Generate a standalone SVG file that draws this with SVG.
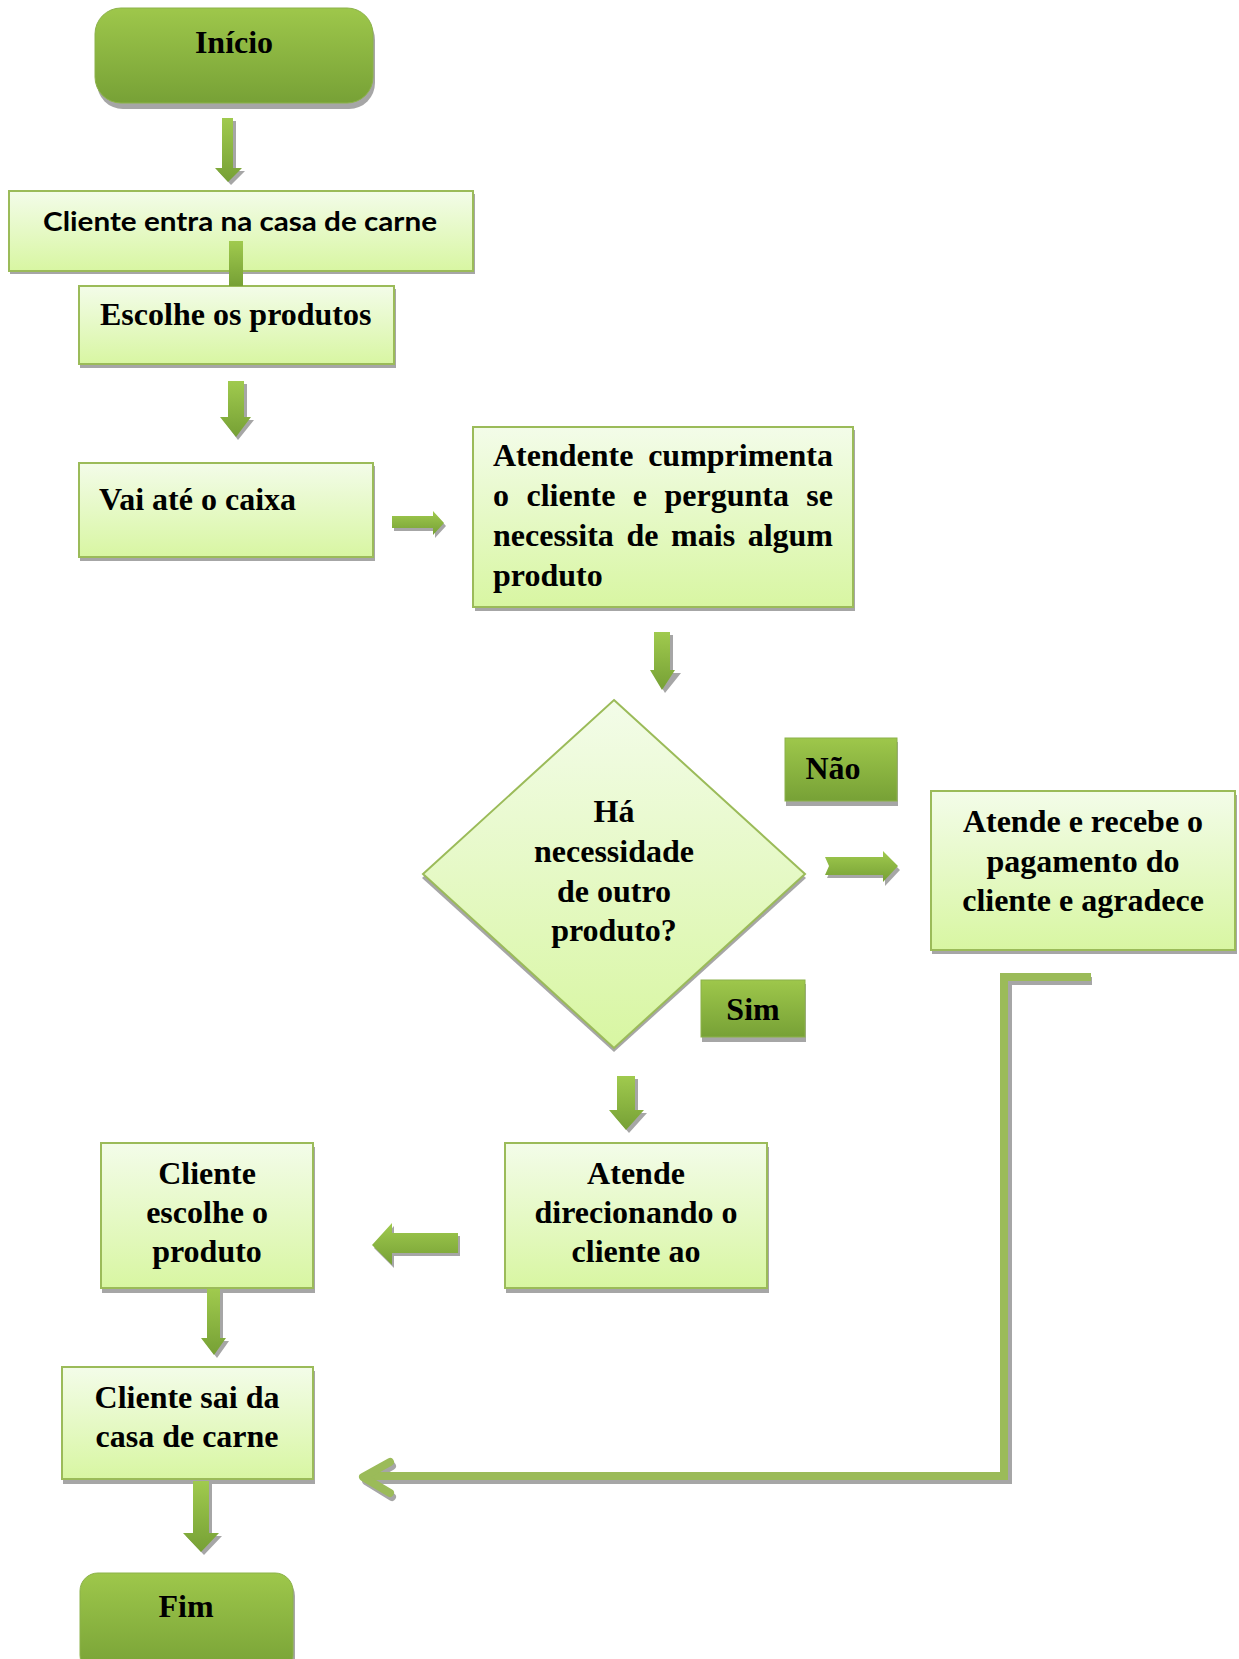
<svg xmlns="http://www.w3.org/2000/svg" width="1239" height="1659" viewBox="0 0 1239 1659">
<defs>
<linearGradient id="gLight" x1="0" y1="0" x2="0" y2="1">
<stop offset="0" stop-color="#f3fce9"/>
<stop offset="1" stop-color="#d8f6a2"/>
</linearGradient>
<linearGradient id="gDark" x1="0" y1="0" x2="0" y2="1">
<stop offset="0" stop-color="#9ec74b"/>
<stop offset="1" stop-color="#77a136"/>
</linearGradient>
<linearGradient id="gArrow" x1="0" y1="0" x2="0" y2="1">
<stop offset="0" stop-color="#a0ca4e"/>
<stop offset="1" stop-color="#76a035"/>
</linearGradient>
</defs>
<style>
.proc{fill:url(#gLight);stroke:#9bbb59;stroke-width:2}
.term{fill:url(#gDark);stroke:#8cb24a;stroke-width:1}
.shadow{fill:#a6a6a6}
.t{font-family:"Liberation Serif","Times New Roman",serif;font-weight:bold;font-size:32px;fill:#000}
.tc{text-anchor:middle}
.ts{font-family:Lato,"Liberation Sans",Arial,sans-serif;font-weight:bold;font-size:27px;fill:#000}
.arrow{fill:url(#gArrow)}
.arrowsh{fill:#a6a6a6}
.line{fill:none;stroke:#9bbb59;stroke-width:8}
.linesh{fill:none;stroke:#a6a6a6;stroke-width:8}
</style>
<rect width="1239" height="1659" fill="#ffffff"/>

<g id="node-inicio">
<rect class="shadow" x="97" y="14" width="278" height="95" rx="26"/>
<rect class="term" x="95" y="8" width="278" height="95" rx="26"/>
<text class="t tc" x="234" y="53">Início</text>
</g>

<g id="node-entra">
<rect class="shadow" x="10" y="194" width="465" height="80"/>
<rect class="proc" x="9" y="191" width="464" height="80"/>
<text class="ts" x="43" y="231" textLength="394" lengthAdjust="spacingAndGlyphs">Cliente entra na casa de carne</text>
</g>

<g id="node-escolhe">
<rect class="shadow" x="80" y="289" width="316" height="79"/>
<rect class="proc" x="79" y="286" width="315" height="78"/>
<text class="t" x="100" y="325">Escolhe os produtos</text>
</g>

<g id="node-caixa">
<rect class="shadow" x="80" y="466" width="295" height="95"/>
<rect class="proc" x="79" y="463" width="294" height="94"/>
<text class="t" x="99" y="510">Vai até o caixa</text>
</g>

<g id="node-atendente">
<rect class="shadow" x="475" y="430" width="380" height="181"/>
<rect class="proc" x="473" y="427" width="380" height="180"/>
<text class="t"><tspan x="493" y="466">Atendente</tspan><tspan x="833" y="466" text-anchor="end">cumprimenta</tspan></text>
<text class="t"><tspan x="493" y="506">o</tspan><tspan x="526.5" y="506">cliente</tspan><tspan x="632.8" y="506">e</tspan><tspan x="664.5" y="506">pergunta</tspan><tspan x="833" y="506" text-anchor="end">se</tspan></text>
<text class="t"><tspan x="493" y="546">necessita</tspan><tspan x="626.5" y="546">de</tspan><tspan x="671.1" y="546">mais</tspan><tspan x="833" y="546" text-anchor="end">algum</tspan></text>
<text class="t" x="493" y="586">produto</text>
</g>

<g id="node-decisao">
<polygon class="shadow" points="614,704 806,878 614,1052 422,878"/>
<polygon class="proc" points="614,700 805,874 614,1048 423,874"/>
<text class="t tc" x="614" y="822">Há</text>
<text class="t tc" x="614" y="862">necessidade</text>
<text class="t tc" x="614" y="902">de outro</text>
<text class="t tc" x="614" y="941">produto?</text>
</g>

<g id="node-nao">
<rect class="shadow" x="786" y="742" width="112" height="64"/>
<rect class="term" x="785" y="738" width="112" height="63"/>
<text class="t tc" x="833" y="779">Não</text>
</g>

<g id="node-sim">
<rect class="shadow" x="702" y="984" width="104" height="58"/>
<rect class="term" x="701" y="980" width="104" height="57"/>
<text class="t tc" x="753" y="1020">Sim</text>
</g>

<g id="node-recebe">
<rect class="shadow" x="932" y="795" width="305" height="159"/>
<rect class="proc" x="931" y="791" width="304" height="159"/>
<text class="t tc" x="1083" y="832">Atende e recebe o</text>
<text class="t tc" x="1083" y="872">pagamento do</text>
<text class="t tc" x="1083" y="911">cliente e agradece</text>
</g>

<g id="node-direciona">
<rect class="shadow" x="506" y="1147" width="263" height="146"/>
<rect class="proc" x="505" y="1143" width="262" height="145"/>
<text class="t tc" x="636" y="1184">Atende</text>
<text class="t tc" x="636" y="1223">direcionando o</text>
<text class="t tc" x="636" y="1262">cliente ao</text>
</g>

<g id="node-escolhe-produto">
<rect class="shadow" x="102" y="1147" width="213" height="146"/>
<rect class="proc" x="101" y="1143" width="212" height="145"/>
<text class="t tc" x="207" y="1184">Cliente</text>
<text class="t tc" x="207" y="1223">escolhe o</text>
<text class="t tc" x="207" y="1262">produto</text>
</g>

<g id="node-sai">
<rect class="shadow" x="63" y="1371" width="252" height="113"/>
<rect class="proc" x="62" y="1367" width="251" height="112"/>
<text class="t tc" x="187" y="1408">Cliente sai da</text>
<text class="t tc" x="187" y="1447">casa de carne</text>
</g>

<g id="node-fim">
<rect class="shadow" x="82" y="1578" width="213" height="100" rx="18"/>
<rect class="term" x="80" y="1573" width="213" height="100" rx="18"/>
<text class="t tc" x="186" y="1617">Fim</text>
</g>

<g id="connectors">
<polygon class="arrowsh" points="225,121 236,121 236,171 245,171 231,185 218,171 225,171"/>
<polygon class="arrow" points="222,118 233,118 233,168 242,168 228,182 215,168 222,168"/>
<rect class="arrow" x="229" y="241" width="14" height="45"/>
<polygon class="arrowsh" points="231,384 247,384 247,420 254,420 238,440 223,420 231,420"/>
<polygon class="arrow" points="228,381 244,381 244,417 251,417 236,437 220,417 228,417"/>
<polygon class="arrowsh" points="394,519 435,519 435,514 446,526 435,538 435,531 394,531"/>
<polygon class="arrow" points="392,516 433,516 433,511 444,523 433,535 433,528 392,528"/>
<polygon class="arrowsh" points="657,635 673,635 673,673 681,673 665,693 653,673 657,673"/>
<polygon class="arrow" points="654,632 670,632 670,670 675,670 662,690 650,670 654,670"/>
<polygon class="arrowsh" points="827,860 885,860 885,855 900,870 885,886 885,878 827,878 831,869"/>
<polygon class="arrow" points="825,857 883,857 883,851 898,866 883,882 883,875 825,875 829,866"/>
<polygon class="arrowsh" points="620,1079 638,1079 638,1113 647,1113 629,1133 612,1113 620,1113"/>
<polygon class="arrow" points="617,1076 635,1076 635,1110 644,1110 626,1130 609,1110 617,1110"/>
<polygon class="arrowsh" points="460,1236 394,1236 394,1226 374,1248 394,1268 394,1256 460,1256"/>
<polygon class="arrow" points="458,1233 392,1233 392,1223 372,1245 392,1265 392,1253 458,1253"/>
<polygon class="arrowsh" points="210,1292 223,1292 223,1341 229,1341 217,1358 204,1341 210,1341"/>
<polygon class="arrow" points="207,1289 220,1289 220,1338 226,1338 214,1355 201,1338 207,1338"/>
<polygon class="arrowsh" points="196,1484 212,1484 212,1536 222,1536 204,1555 186,1536 196,1536"/>
<polygon class="arrow" points="193,1481 209,1481 209,1533 219,1533 201,1552 183,1533 193,1533"/>
<path class="linesh" d="M1092 981 H1008 V1480 H368"/>
<path class="linesh" d="M392 1466 L366 1481 L392 1497" stroke-width="10" stroke-linecap="round" stroke-linejoin="round"/>
<path class="line" d="M1091 977 H1004 V1476 H366"/>
<path class="line" d="M390 1462 L363 1477 L390 1493" stroke-width="10" stroke-linecap="round" stroke-linejoin="round"/>
</g>
</svg>
